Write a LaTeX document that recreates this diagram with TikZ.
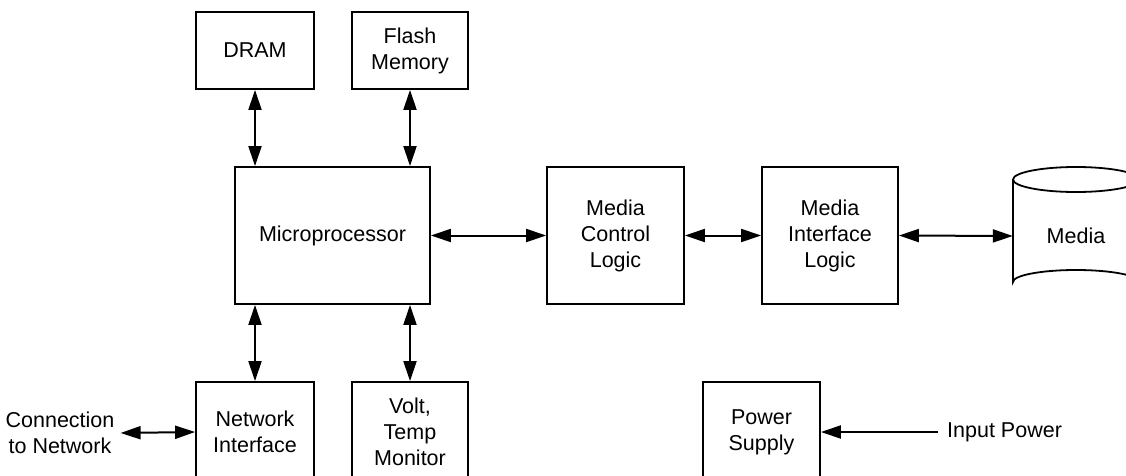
\documentclass[tikz,border=0pt]{standalone}
\usepackage{fontspec}
\setmainfont{Liberation Sans}
\usetikzlibrary{arrows.meta}
\begin{document}
\begin{tikzpicture}[x=1pt,y=-1pt,
  txt/.style={font=\fontsize{21.5}{26}\selectfont, align=center},
  box/.style={txt, draw, line width=1.8pt, inner sep=0pt},
  lbl/.style={txt, inner sep=0pt},
  tip/.tip={Triangle[length=20pt,width=13pt]},
  conn/.style={line width=2pt, tip-tip},
  oneway/.style={line width=2pt, -tip},
  ]
\useasboundingbox (0,0) rectangle (1126,476);
% top row
\node[box, minimum width=118pt, minimum height=77pt] (dram) at (255,50.5) {DRAM};
\node[box, minimum width=116pt, minimum height=77pt] (flash) at (410,50.5) {Flash\\Memory};
% middle row
\node[box, minimum width=195pt, minimum height=137pt] (micro) at (332.5,235.5) {Microprocessor};
\node[box, minimum width=137pt, minimum height=137pt] (mcl) at (615.5,235.5) {Media\\Control\\Logic};
\node[box, minimum width=136pt, minimum height=137pt] (mil) at (830,235.5) {Media\\Interface\\Logic};
% media cylinder
\node[lbl, minimum width=126pt, minimum height=127pt] (media) at (1076,236) {Media};
\draw[line width=1.8pt] (1013,179.5) -- (1013,282) arc[start angle=180, end angle=360, x radius=63, y radius=12] -- (1139,179.5);
\draw[line width=1.8pt] (1076,179.5) ellipse [x radius=63, y radius=12.5];
% bottom row
\node[box, minimum width=118pt, minimum height=100pt] (ni) at (255,432) {Network\\Interface};
\node[box, minimum width=116pt, minimum height=100pt] (volt) at (410,432) {Volt,\\Temp\\Monitor};
\node[box, minimum width=117pt, minimum height=100pt] (ps) at (761.5,432) {Power\\Supply};
% labels
\node[lbl] (cn) at (60,433) {Connection\\to Network};
\node[lbl, anchor=west] (inp) at (947,432) {Input Power};
% connectors
\draw[conn] (dram.south) -- (dram.south |- micro.north);
\draw[conn] (flash.south) -- (flash.south |- micro.north);
\draw[conn] (ni.north) -- (ni.north |- micro.south);
\draw[conn] (volt.north) -- (volt.north |- micro.south);
\draw[conn] (micro.east) -- (mcl.west);
\draw[conn] (mcl.east) -- (mil.west);
\draw[conn] (mil.east) -- (media.west);
\draw[conn] ([xshift=6pt]cn.east) -- (ni.west);
\draw[oneway] ([xshift=-9pt]inp.west) -- (ps.east);
\end{tikzpicture}
\end{document}
